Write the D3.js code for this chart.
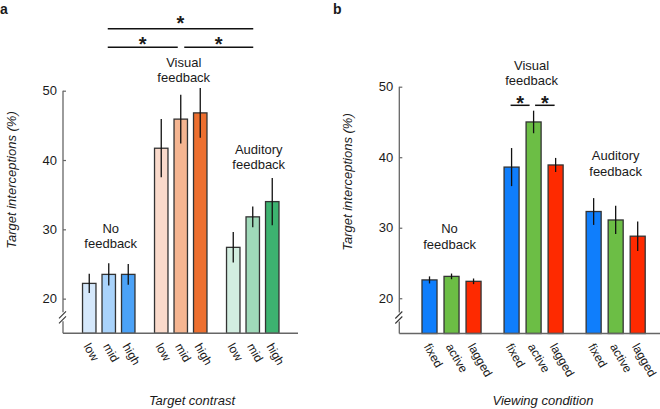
<!DOCTYPE html>
<html>
<head>
<meta charset="utf-8">
<script src="https://cdn.jsdelivr.net/npm/d3@7"></script>
<style>
  html, body { margin: 0; padding: 0; background: #fff; }
  svg { display: block; }
  text { font-family: "Liberation Sans", Arial, Helvetica, sans-serif; fill: #1a1a1a; }
</style>
</head>
<body>
<svg id="chart" width="660" height="409"></svg>
<script>
// ---------------- data ----------------
const groups = ["No feedback", "Visual feedback", "Auditory feedback"];
const groupLabelLines = [["No", "feedback"], ["Visual", "feedback"], ["Auditory", "feedback"]];
const contrastLevels = ["low", "mid", "high"];
const viewConditions = ["fixed", "active", "lagged"];
const yTicks = [20, 30, 40, 50];

// panel a: target contrast (mean, error)
const contrastNo = [22.2, 23.5, 23.5];
const contrastVisual = [41.7, 45.9, 46.8];
const contrastAuditory = [27.4, 31.8, 34.0];
const contrastErrNo = [1.4, 1.6, 1.5];
const contrastErrVisual = [4.2, 3.5, 3.6];
const contrastErrAuditory = [2.2, 1.5, 3.4];

// panel b: viewing condition (mean, error)
const viewNo = [22.6, 23.1, 22.4];
const viewVisual = [38.6, 45.0, 38.9];
const viewAuditory = [32.3, 31.1, 28.8];
const viewErrNo = [0.5, 0.4, 0.4];
const viewErrVisual = [2.7, 1.6, 1.0];
const viewErrAuditory = [1.9, 2.0, 2.1];

const coloursA = [
  ["#d5e8fb", "#a9d3fb", "#4ba2f7"],
  ["#fadacb", "#f5b591", "#ed6f2f"],
  ["#d2ede0", "#9fd9b9", "#3db370"]
];
const coloursB = ["#0f7efc", "#6cbe45", "#fe2a00"];

// ---------------- drawing ----------------
const svg = d3.select("#chart");

function drawPanel(cfg) {
  const g = svg.append("g");
  const y = d3.scaleLinear().domain([15, 50]).range([cfg.yBase, cfg.yTop]);
  const x0 = d3.scaleBand().domain(groups).range(cfg.xRange)
    .paddingInner(cfg.outerPad).paddingOuter(0);
  const x1 = d3.scaleBand().domain(cfg.conds).range([0, x0.bandwidth()])
    .paddingInner(cfg.innerPad).paddingOuter(cfg.innerPad / 2);

  // bars
  groups.forEach((grp, gi) => {
    cfg.conds.forEach((c, ci) => {
      const v = cfg.means[gi][ci], e = cfg.errs[gi][ci];
      const bx = x0(grp) + x1(c);
      const cx = bx + x1.bandwidth() / 2;
      g.append("rect")
        .attr("x", bx).attr("y", y(v))
        .attr("width", x1.bandwidth()).attr("height", y(15) - y(v))
        .attr("fill", cfg.colour(gi, ci))
        .attr("stroke", "#333").attr("stroke-width", 1.3);
      g.append("line")
        .attr("x1", cx).attr("x2", cx)
        .attr("y1", y(v + e)).attr("y2", y(v - e))
        .attr("stroke", "#111").attr("stroke-width", 1.3);
      g.append("text")
        .attr("transform", `translate(${cx - 6},${cfg.yBase + 13}) rotate(60)`)
        .attr("font-size", 12)
        .text(c);
    });
    // group label
    const gc = x0(grp) + x0.bandwidth() / 2 + cfg.labelDx[gi];
    groupLabelLines[gi].forEach((ln, li) => {
      g.append("text")
        .attr("x", gc).attr("y", cfg.labelY[gi] + li * 15.5)
        .attr("text-anchor", "middle").attr("font-size", 13)
        .text(ln);
    });
  });

  // y axis (ticks inward, custom domain line with break)
  const ax = g.append("g")
    .attr("transform", `translate(${cfg.xAxis},0)`)
    .call(d3.axisLeft(y).tickValues(yTicks).tickSizeInner(-3).tickSizeOuter(0).tickPadding(6));
  ax.select(".domain").remove();
  ax.selectAll(".tick line").attr("stroke", "#666").attr("stroke-width", 1.2);
  ax.selectAll(".tick text")
    .attr("font-size", 13).attr("fill", "#1a1a1a")
    .attr("font-family", "'Liberation Sans', Arial, Helvetica, sans-serif");

  const axCol = "#666";
  g.append("line").attr("x1", cfg.xAxis).attr("x2", cfg.xAxis)
    .attr("y1", y(50)).attr("y2", cfg.yBase - 21)
    .attr("stroke", axCol).attr("stroke-width", 1.3);
  g.append("line").attr("x1", cfg.xAxis).attr("x2", cfg.xAxis)
    .attr("y1", cfg.yBase - 12).attr("y2", cfg.yBase)
    .attr("stroke", axCol).attr("stroke-width", 1.3);
  [0, 5].forEach(off => {
    g.append("line")
      .attr("x1", cfg.xAxis - 4).attr("y1", cfg.yBase - 15 + off)
      .attr("x2", cfg.xAxis + 3).attr("y2", cfg.yBase - 22 + off)
      .attr("stroke", "#333").attr("stroke-width", 1.1);
  });
  g.append("line").attr("x1", cfg.xAxis).attr("x2", cfg.xEnd)
    .attr("y1", cfg.yBase).attr("y2", cfg.yBase)
    .attr("stroke", axCol).attr("stroke-width", 1.4);

  // axis titles
  g.append("text")
    .attr("transform", `translate(${cfg.yTitleX},${cfg.yTitleY}) rotate(-90)`)
    .attr("text-anchor", "middle").attr("font-size", 13).attr("font-style", "italic")
    .text("Target interceptions (%)");
  g.append("text")
    .attr("x", cfg.xTitleX).attr("y", 405)
    .attr("text-anchor", "middle").attr("font-size", 13).attr("font-style", "italic")
    .text(cfg.xTitle);

  // panel letter
  g.append("text").attr("x", cfg.letterX).attr("y", 13.5)
    .attr("font-size", 14).attr("font-weight", "bold").text(cfg.letter);

  return { g, x0, x1, y };
}

function sig(g, xa, xb, yLine, starCentre) {
  g.append("line").attr("x1", xa).attr("x2", xb).attr("y1", yLine).attr("y2", yLine)
    .attr("stroke", "#111").attr("stroke-width", 1.5);
  g.append("text").attr("x", (xa + xb) / 2).attr("y", starCentre + 11.7)
    .attr("text-anchor", "middle").attr("font-size", 20).attr("font-weight", "bold")
    .text("*");
}

const pa = drawPanel({
  letter: "a", letterX: 0,
  conds: contrastLevels,
  means: [contrastNo, contrastVisual, contrastAuditory],
  errs: [contrastErrNo, contrastErrVisual, contrastErrAuditory],
  colour: (gi, ci) => coloursA[gi][ci],
  yBase: 333.3, yTop: 90.7,
  xRange: [79.5, 282], outerPad: 0.1875, innerPad: 0.31,
  xAxis: 63, xEnd: 298,
  labelDx: [2, 3, 6], labelY: [232.5, 66.5, 153.5],
  yTitleX: 16, yTitleY: 180,
  xTitle: "Target contrast", xTitleX: 192
});

const pb = drawPanel({
  letter: "b", letterX: 333,
  conds: viewConditions,
  means: [viewNo, viewVisual, viewAuditory],
  errs: [viewErrNo, viewErrVisual, viewErrAuditory],
  colour: (gi, ci) => coloursB[ci],
  yBase: 333.5, yTop: 86.7,
  xRange: [418.5, 648.7], outerPad: 0.195, innerPad: 0.318,
  xAxis: 399.3, xEnd: 660,
  labelDx: [-2, -2, 0], labelY: [233, 69.5, 160],
  yTitleX: 352, yTitleY: 182,
  xTitle: "Viewing condition", xTitleX: 543
});

// significance markers, panel a (between groups)
{
  const c = i => pa.x0(groups[i]) + pa.x0.bandwidth() / 2;
  sig(pa.g, c(0) - 1, c(2) + 0.5, 28.7, 18.5);
  sig(pa.g, c(0) - 1, c(1) - 3, 47.3, 39.5);
  sig(pa.g, c(1) + 3.5, c(2) + 0.5, 47.3, 39.5);
}
// significance markers, panel b (within visual feedback)
{
  const c = i => pb.x0(groups[1]) + pb.x1(viewConditions[i]) + pb.x1.bandwidth() / 2;
  sig(pb.g, c(0) - 1, c(1) - 4, 105.3, 98);
  sig(pb.g, c(1) + 1.5, c(2) - 1, 105.3, 98);
}
</script>
</body>
</html>
